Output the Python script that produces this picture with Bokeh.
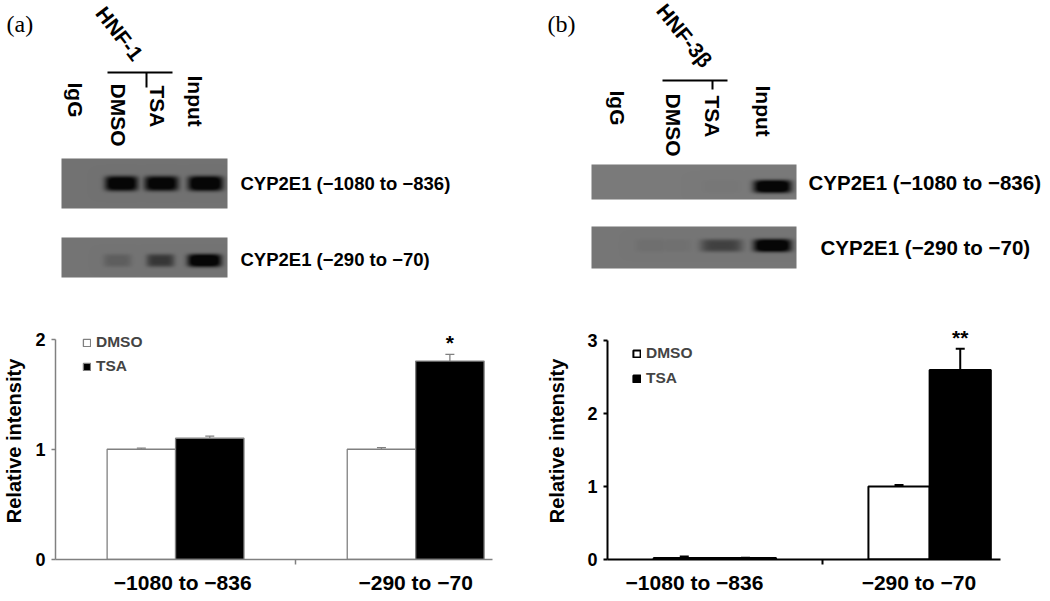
import numpy as np
from bokeh.plotting import figure
from bokeh.models import (Range1d, ColumnDataSource, FixedTicker, Whisker, TeeHead,
                          Legend, LegendItem)
from bokeh.layouts import column, row
from bokeh.core.properties import value
from bokeh.embed import file_html
from bokeh.resources import INLINE

# ---------------- data ----------------
categories = ["−1080 to −836", "−290 to −70"]
series = ["DMSO", "TSA"]

a_dmso = [1.00, 1.00]
a_dmso_err = [0.01, 0.015]
a_tsa = [1.10, 1.80]
a_tsa_err = [0.02, 0.06]
a_sig = ["", "*"]
a_yticks = [0, 1, 2]

b_dmso = [0.02, 1.00]
b_dmso_err = [0.02, 0.02]
b_tsa = [0.02, 2.60]
b_tsa_err = [0.005, 0.29]
b_sig = ["", "**"]
b_yticks = [0, 1, 2, 3]

panel_tags = ["(a)", "(b)"]
antibodies = ["HNF-1", "HNF-3β"]
lane_labels = ["IgG", "DMSO", "TSA", "Input"]
gel_rows = ["CYP2E1 (−1080 to −836)", "CYP2E1 (−290 to −70)"]

# band intensity per lane (IgG, DMSO, TSA, Input)
a_band_upper = [0.0, 0.95, 0.92, 1.0]
a_band_lower = [0.0, 0.16, 0.45, 1.0]
b_band_upper = [0.0, 0.0, 0.02, 1.0]
b_band_lower = [0.05, 0.04, 0.38, 1.0]

FONT = "Liberation Sans"
TOTAL_W = 1048
TOP_H = 300
BOTTOM_H = 300
A_W = 520

# ---------------- top (gels) ----------------
top = figure(width=TOTAL_W, height=TOP_H, x_range=Range1d(0, TOTAL_W), y_range=Range1d(0, TOP_H),
             output_backend="svg", toolbar_location=None, min_border=0,
             x_axis_location=None, y_axis_location=None)
top.grid.visible = False
top.outline_line_color = None


def Y(y):
    return TOP_H - y


def gel_image(x0, x1, y0, y1, bg, centers, halfw, yc, halfh, inten):
    W = int(round(x1 - x0))
    H = int(round(y1 - y0))
    xs = x0 + np.arange(W) + 0.5
    ys = y1 - (np.arange(H) + 0.5)
    X, Yg = np.meshgrid(xs, ys)
    dark = np.zeros_like(X)
    for c, hw, I in zip(centers, halfw, inten):
        shape = np.exp(-np.abs((X - c) / hw) ** 5 - np.abs((Yg - yc) / halfh) ** 4)
        dark = np.maximum(dark, I * shape)
    d = np.clip(dark * 1.25, 0, 1)
    g = bg * (1 - d) + 6 * d
    g = np.clip(g, 0, 255).astype(np.uint32)
    return (np.uint32(255) << 24) | (g << 16) | (g << 8) | g


def draw_gel(x0, x1, y0, y1, bg, centers, halfw, yc, halfh, inten):
    img = gel_image(x0, x1, y0, y1, bg, centers, halfw, yc, halfh, inten)
    top.image_rgba(image=[img], x=x0, y=Y(y1), dw=x1 - x0, dh=y1 - y0)


# panel (a) gels
draw_gel(61, 227, 158, 208, 114, [82, 121, 161, 205], [16, 16.5, 17, 17.5], 183, 7.5, a_band_upper)
draw_gel(61, 227, 237, 277, 116, [82, 117, 160, 204], [15, 14, 14, 17], 260, 6.5, a_band_lower)
# panel (b) gels
draw_gel(591, 796, 164, 199, 122, [630, 672, 721, 772], [18, 18, 20, 19], 186, 6.5, b_band_upper)
draw_gel(591, 796, 226, 268, 118, [651, 675, 721, 772], [16, 16, 21, 19], 245, 6.5, b_band_lower)

# panel tags
top.text(x=[6, 547], y=[Y(23), Y(23)], text=panel_tags, text_font=value("Liberation Serif"),
         text_font_size="24px", text_align="left", text_baseline="middle", text_color="black")

# antibody labels (rotated)
top.text(x=[119, 684], y=[Y(33), Y(35)], text=antibodies, angle=[-0.91, -0.89],
         text_font=value(FONT), text_font_style="bold", text_font_size="21px",
         text_align="center", text_baseline="middle", text_color="black")

# brackets
top.multi_line(xs=[[107, 172], [146, 146], [662, 727], [712, 712]],
               ys=[[Y(72), Y(72)], [Y(72), Y(87)], [Y(80), Y(80)], [Y(80), Y(89)]],
               line_color="black", line_width=2)

# lane labels (rotated, reading downward)
top.text(x=[75, 118, 157, 195], y=[Y(82), Y(83), Y(85), Y(75)], text=lane_labels,
         angle=-np.pi / 2, text_font=value(FONT), text_font_style="bold", text_font_size="21px",
         text_align="left", text_baseline="middle", text_color="black")
top.text(x=[617, 673, 712, 763], y=[Y(90), Y(93), Y(95), Y(85)], text=lane_labels,
         angle=-np.pi / 2, text_font=value(FONT), text_font_style="bold", text_font_size="21px",
         text_align="left", text_baseline="middle", text_color="black")

# gel row labels
top.text(x=[240, 240], y=[Y(183), Y(259)], text=gel_rows, text_font=value(FONT),
         text_font_style="bold", text_font_size="18.5px", text_align="left",
         text_baseline="middle", text_color="black")
top.text(x=[808, 820], y=[Y(182), Y(247)], text=gel_rows, text_font=value(FONT),
         text_font_style="bold", text_font_size="20.5px", text_align="left",
         text_baseline="middle", text_color="black")


# ---------------- bar panels ----------------
def bar_panel(width, height, borders, xmax, ymax, yticks, dmso, dmso_err, tsa, tsa_err, sig,
              axis_color, axis_w, bar_line, legend_loc, legend_spacing, lab_standoff, label_shift):
    l, r, t, b = borders
    p = figure(width=width, height=height, x_range=Range1d(0, xmax), y_range=Range1d(0, ymax),
               output_backend="svg", toolbar_location=None,
               min_border_left=l, min_border_right=r, min_border_top=t, min_border_bottom=b)
    p.grid.visible = False
    p.outline_line_color = None

    n = len(categories)
    w = 0.285
    xd = [i + 0.5 - w / 2 for i in range(n)]
    xt = [i + 0.5 + w / 2 for i in range(n)]
    up_d = [v + e for v, e in zip(dmso, dmso_err)]
    up_t = [v + e for v, e in zip(tsa, tsa_err)]
    sd = ColumnDataSource(dict(x=xd, top=dmso, upper=up_d, lower=dmso))
    st = ColumnDataSource(dict(x=xt, top=tsa, upper=up_t, lower=tsa, sig=sig))

    rd = p.vbar(x="x", top="top", bottom=0, width=w, source=sd, fill_color="white",
                line_color=axis_color, line_width=bar_line)
    rt = p.vbar(x="x", top="top", bottom=0, width=w, source=st, fill_color="black",
                line_color=axis_color, line_width=bar_line)

    for src in (sd, st):
        wk = Whisker(source=src, base="x", upper="upper", lower="lower",
                     line_color=axis_color, line_width=bar_line,
                     upper_head=TeeHead(size=9, line_color=axis_color, line_width=bar_line),
                     lower_head=None)
        p.add_layout(wk)

    p.text(x="x", y="upper", text="sig", source=st, text_font=value(FONT), text_font_style="bold",
           text_font_size="21px", text_align="center", text_baseline="bottom",
           y_offset=0, text_color="black")

    # x axis: category labels between tick marks
    xa = p.xaxis[0]
    label_pos = [round(i + 0.5 + s, 3) for i, s in enumerate(label_shift)]
    xa.ticker = FixedTicker(ticks=label_pos, minor_ticks=[float(i) for i in range(1, n)])
    xa.major_label_overrides = {pos: c for pos, c in zip(label_pos, categories)}
    xa.major_tick_out = 0
    xa.major_tick_in = 0
    xa.minor_tick_out = 5
    xa.minor_tick_in = 0
    xa.minor_tick_line_color = axis_color
    xa.minor_tick_line_width = axis_w
    xa.axis_line_color = axis_color
    xa.axis_line_width = axis_w
    xa.major_label_standoff = 6
    xa.major_label_text_font = FONT
    xa.major_label_text_font_style = "bold"
    xa.major_label_text_font_size = "21px"
    xa.major_label_text_color = "black"

    # y axis
    ya = p.yaxis[0]
    ya.ticker = FixedTicker(ticks=yticks, minor_ticks=[])
    ya.bounds = (0, yticks[-1])
    ya.major_tick_out = 4
    ya.major_tick_in = 0
    ya.minor_tick_line_color = None
    ya.major_tick_line_color = axis_color
    ya.major_tick_line_width = axis_w
    ya.axis_line_color = axis_color
    ya.axis_line_width = axis_w
    ya.major_label_standoff = 6
    ya.major_label_text_font = FONT
    ya.major_label_text_font_style = "bold"
    ya.major_label_text_font_size = "18px"
    ya.major_label_text_color = "black"
    ya.axis_label = "Relative intensity"
    ya.axis_label_text_font = FONT
    ya.axis_label_text_font_style = "bold"
    ya.axis_label_text_font_size = "20px"
    ya.axis_label_text_color = "black"
    ya.axis_label_standoff = lab_standoff

    legend = Legend(items=[LegendItem(label=series[0], renderers=[rd]),
                           LegendItem(label=series[1], renderers=[rt])],
                    location=legend_loc, glyph_width=9, glyph_height=9, label_height=20,
                    label_standoff=5, spacing=legend_spacing, padding=0, margin=0,
                    background_fill_alpha=0, border_line_alpha=0,
                    label_text_font=FONT, label_text_font_style="bold",
                    label_text_font_size="15.5px", label_text_baseline="middle")
    p.add_layout(legend)
    return p


pa = bar_panel(A_W, BOTTOM_H, (50, 28, 13, 40), 1.82, 2.15, a_yticks, a_dmso, a_dmso_err, a_tsa,
               a_tsa_err, a_sig, "#808080", 1.5, 1.3, (27, 183), 4, 7, [0.03, 0.0])
pb = bar_panel(TOTAL_W - A_W, BOTTOM_H, (87, 48, 22, 41), 1.83, 3.25, b_yticks, b_dmso, b_dmso_err,
               b_tsa, b_tsa_err, b_sig, "black", 2, 2, (25, 171), 5, 16, [-0.095, -0.05])

layout = column(top, row(pa, pb))
open("out.html", "w").write(file_html(layout, INLINE))
